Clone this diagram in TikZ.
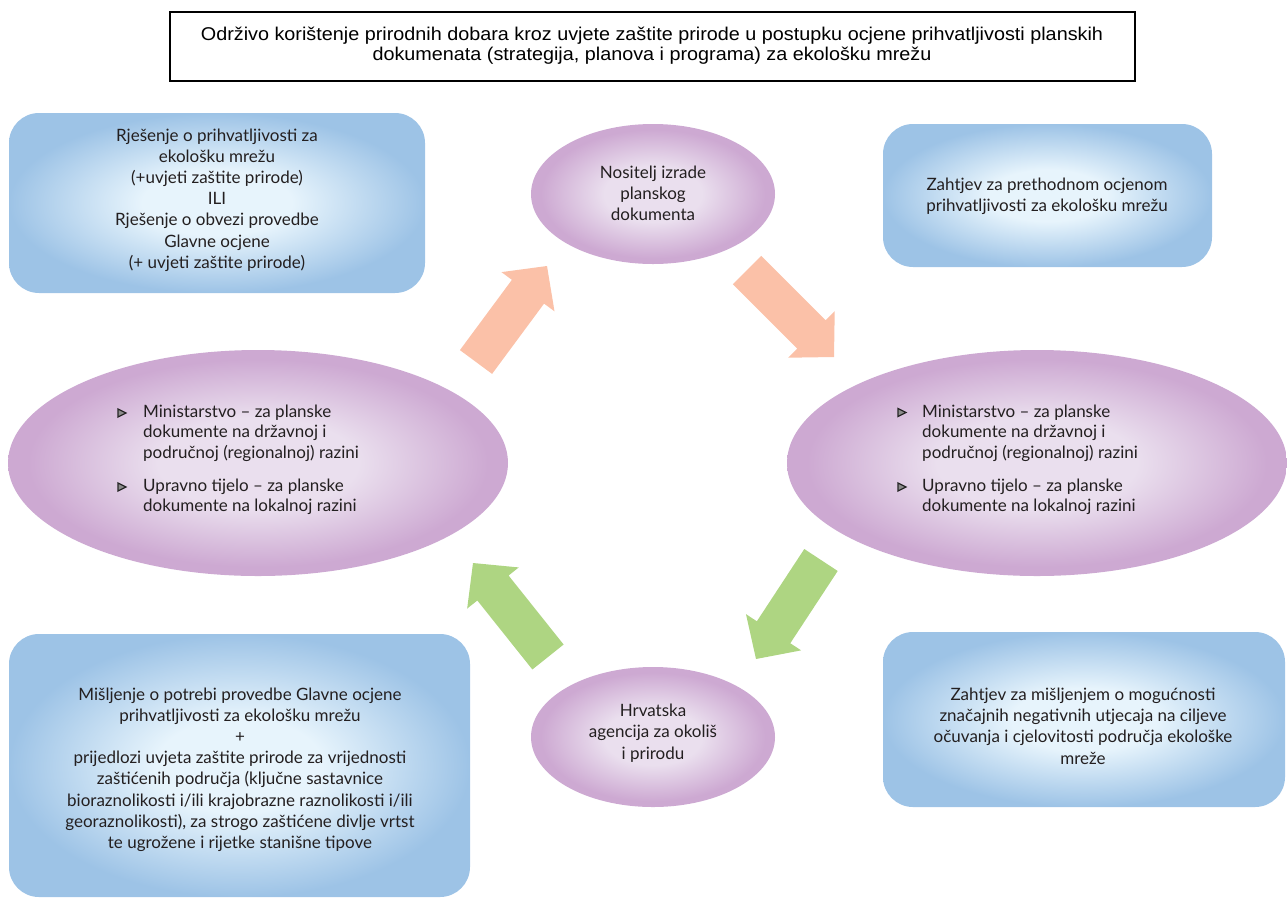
\documentclass[tikz,border=0pt]{standalone}
\usepackage{fontspec}
\setmainfont{Lato}
\newfontfamily\titlefont[FakeStretch=1.07]{Liberation Sans}
\usetikzlibrary{shapes.geometric,calc}
\definecolor{bluein}{HTML}{E7F4FC}
\definecolor{blueout}{HTML}{9DC3E6}
\definecolor{purin}{HTML}{EADFEE}
\definecolor{purout}{HTML}{CDA9D2}
\definecolor{orangearr}{HTML}{FBC1A8}
\definecolor{greenarr}{HTML}{AED582}
\definecolor{txtcol}{HTML}{231F20}
\pgfdeclareradialshading{blueshade}{\pgfpoint{0bp}{0bp}}{color(0bp)=(bluein); color(9bp)=(bluein); color(25bp)=(blueout); color(50bp)=(blueout)}
\pgfdeclareradialshading{purshade}{\pgfpoint{0bp}{0bp}}{color(0bp)=(purin); color(10bp)=(purin); color(23bp)=(purout); color(50bp)=(purout)}
\newcommand{\blkarrow}[4]{%
  \coordinate (#1h) at ($(#4)!32pt!(#3)$);
  \fill[#2] ($(#3)!20pt!90:(#4)$) -- ($(#1h)!20pt!-90:(#3)$) -- ($(#1h)!33pt!-90:(#3)$) -- (#4)
    -- ($(#1h)!33pt!90:(#3)$) -- ($(#1h)!20pt!90:(#3)$) -- ($(#3)!20pt!-90:(#4)$) -- cycle;}
\tikzset{
  bluebox/.style={rectangle, rounded corners=30pt, shading=blueshade, inner sep=0pt},
  purell/.style={ellipse, shading=purshade, inner sep=0pt},
  txt/.style={text=txtcol, font=\fontsize{17}{21.2}\selectfont, align=center, inner sep=0pt},
  bultxt/.style={text=txtcol, font=\fontsize{17}{20.5}\selectfont, align=left, inner sep=0pt, anchor=west},
  bulmark/.style={draw=black!85, fill=black!45, line width=1.3pt, line join=miter},
}
\begin{document}
\begin{tikzpicture}[x=1pt,y=-1pt]
\useasboundingbox (0,0) rectangle (1287,900);
% title
\node[draw=black, line width=1.3pt, minimum width=965pt, minimum height=69pt, inner sep=0pt] (title) at (652.5,46.5) {};
\node[text=black, font=\titlefont\fontsize{18.5}{20}\selectfont, align=center, inner sep=0pt] (titlet) at (652,46)
  {Održivo korištenje prirodnih dobara kroz uvjete zaštite prirode u postupku ocjene prihvatljivosti planskih\\dokumenata (strategija, planova i programa) za ekološku mrežu};
% boxes
\node[bluebox, minimum width=416pt, minimum height=180pt] (tl) at (217,203) {};
\node[bluebox, minimum width=329pt, minimum height=143pt] (tr) at (1047.5,195.5) {};
\node[bluebox, minimum width=461pt, minimum height=263pt] (bl) at (239.5,765.5) {};
\node[bluebox, minimum width=402pt, minimum height=175pt] (br) at (1084,719.5) {};
% ellipses
\node[purell, minimum width=244pt, minimum height=140pt] (top) at (653,194) {};
\node[purell, minimum width=244pt, minimum height=140pt] (bot) at (653,737) {};
\node[purell, minimum width=500pt, minimum height=226pt] (left) at (258,463) {};
\node[purell, minimum width=500pt, minimum height=226pt] (right) at (1037,463) {};
% arrows
\coordinate (a1s) at (476,362); \coordinate (a1e) at (547,266);
\coordinate (a2s) at (747,270); \coordinate (a2e) at (834,357);
\coordinate (a3s) at (821,560); \coordinate (a3e) at (756,659);
\coordinate (a4s) at (548,657); \coordinate (a4e) at (473,563);
\blkarrow{a1}{orangearr}{a1s}{a1e}
\blkarrow{a2}{orangearr}{a2s}{a2e}
\blkarrow{a3}{greenarr}{a3s}{a3e}
\blkarrow{a4}{greenarr}{a4s}{a4e}
% texts
\node[txt] (tlt) at (217,200) {Rješenje o prihvatljivosti za\\ekološku mrežu\\(+uvjeti zaštite prirode)\\ILI\\Rješenje o obvezi provedbe\\Glavne ocjene\\(+ uvjeti zaštite prirode)};
\node[txt] (topt) at (653,193.5) {Nositelj izrade\\planskog\\dokumenta};
\node[txt] (trt) at (1047,196) {Zahtjev za prethodnom ocjenom\\prihvatljivosti za ekološku mrežu};
\node[txt] (bott) at (653,733) {Hrvatska\\agencija za okoliš\\i prirodu};
\node[txt] (blt) at (240,769.5) {Mišljenje o potrebi provedbe Glavne ocjene\\prihvatljivosti za ekološku mrežu\\+\\prijedlozi uvjeta zaštite prirode za vrijednosti\\zaštićenih područja (ključne sastavnice\\bioraznolikosti i/ili krajobrazne raznolikosti i/ili\\georaznolikosti), za strogo zaštićene divlje vrtst\\te ugrožene i rijetke stanišne tipove};
\node[txt] (brt) at (1083,726) {Zahtjev za mišljenjem o mogućnosti\\značajnih negativnih utjecaja na ciljeve\\očuvanja i cjelovitosti područja ekološke\\mreže};
% bullets left
\draw[bulmark] (118,409) -- (118,417) -- (126,413) -- cycle;
\draw[bulmark] (118,483) -- (118,491) -- (126,487) -- cycle;
\node[bultxt] (l1) at (143,433) {Ministarstvo – za planske\\dokumente na državnoj i\\područnoj (regionalnoj) razini};
\node[bultxt] (l2) at (143,497) {Upravno tijelo – za planske\\dokumente na lokalnoj razini};
% bullets right
\draw[bulmark] (898,408.5) -- (898,416.5) -- (906,412.5) -- cycle;
\draw[bulmark] (898,483) -- (898,491) -- (906,487) -- cycle;
\node[bultxt] (r1) at (922,433) {Ministarstvo – za planske\\dokumente na državnoj i\\područnoj (regionalnoj) razini};
\node[bultxt] (r2) at (922,497) {Upravno tijelo – za planske\\dokumente na lokalnoj razini};
\end{tikzpicture}
\end{document}
